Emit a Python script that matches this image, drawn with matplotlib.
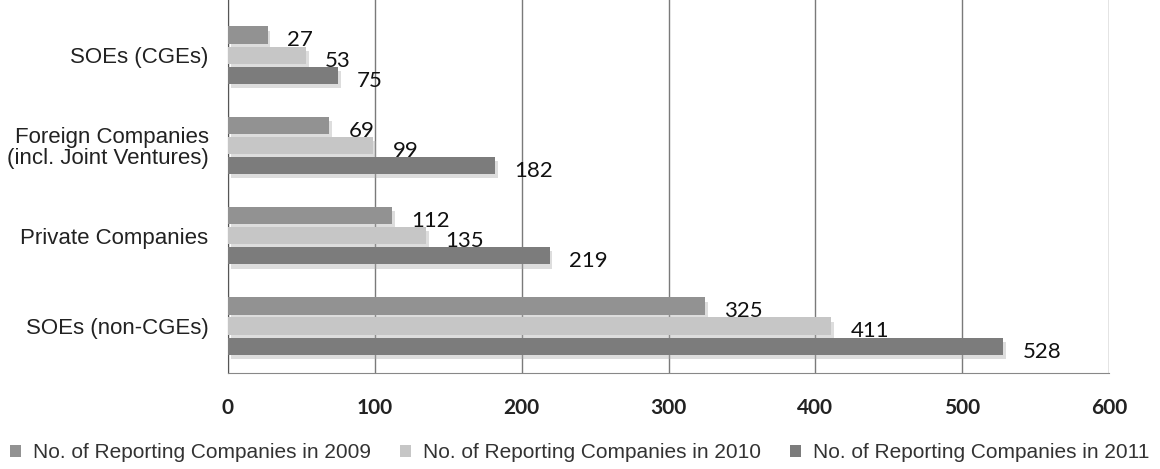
import matplotlib.pyplot as plt
import matplotlib.patheffects as pe
from matplotlib.patches import Patch
import numpy as np

categories = ["SOEs (CGEs)", "Foreign Companies\n(incl. Joint Ventures)",
              "Private Companies", "SOEs (non-CGEs)"]
years = ["2009", "2010", "2011"]
counts_2009 = [27, 69, 112, 325]
counts_2010 = [53, 99, 135, 411]
counts_2011 = [75, 182, 219, 528]
x_ticks = [0, 100, 200, 300, 400, 500, 600]

colors = ["#929292", "#c6c6c6", "#7c7c7c"]

fig = plt.figure(figsize=(11.6, 4.69), dpi=100)
ax = fig.add_axes([228 / 1160, 1 - 373 / 469, (1109 - 228) / 1160, 373 / 469])

ypos = np.arange(len(categories))
pitch = 0.222
height = 0.19
shadow = [pe.SimplePatchShadow(offset=(2, -3), shadow_rgbFace="#aaaaaa", alpha=0.4),
          pe.Normal()]

for i, (vals, c) in enumerate(zip([counts_2009, counts_2010, counts_2011], colors)):
    y = ypos + (i - 1) * pitch
    bars = ax.barh(y, vals, height=height, color=c, zorder=3)
    for b in bars:
        b.set_path_effects(shadow)
    for yy, v in zip(y, vals):
        ax.text(v + 13, yy + 0.06, str(v), va="center", ha="left",
                fontsize=16, family="Lato", color="#111111", zorder=4)

ax.set_xlim(0, 600)
ax.set_ylim(3.52, -0.61)
ax.set_xticks(x_ticks)
ax.set_xticklabels([str(t) for t in x_ticks], fontsize=15, family="Lato",
                   fontweight="bold", color="#222222")
ax.tick_params(axis="x", length=0, pad=18)
ax.set_yticks(ypos)
ax.set_yticklabels(categories, fontsize=16, family="Liberation Sans",
                   color="#222222", linespacing=1.0)
ax.tick_params(axis="y", length=0, pad=14)

ax.grid(axis="x", color="#7a7a7a", linewidth=1.0, zorder=0)
for s in ["top", "right"]:
    ax.spines[s].set_visible(False)
ax.spines["left"].set_color("#555555")
ax.spines["bottom"].set_color("#888888")

handles = [Patch(facecolor=c, edgecolor="none") for c in colors]
labels = [f"No. of Reporting Companies in {y}" for y in years]
fig.legend(handles, labels, loc="lower center", bbox_to_anchor=(0.5, -0.026),
           ncol=3, frameon=False, handlelength=0.5, handleheight=0.5,
           handletextpad=0.6, columnspacing=1.4,
           prop={"family": "Liberation Sans", "size": 15}, labelcolor="#333333")

fig.savefig("out.png", dpi=100)
